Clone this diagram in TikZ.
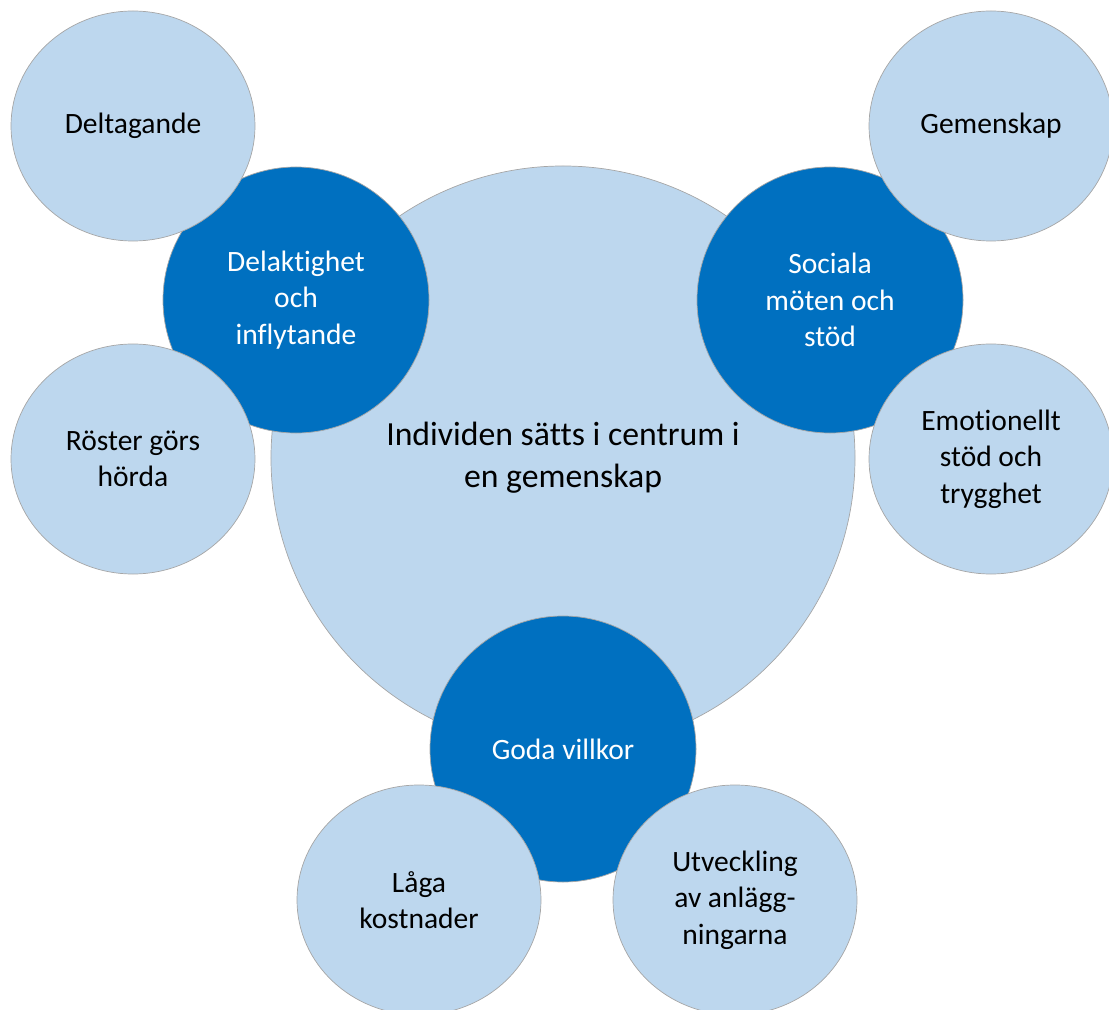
\documentclass[tikz,border=0pt]{standalone}
\usepackage{fontspec}
\setmainfont{Carlito}[Ligatures=NoCommon]
\usetikzlibrary{shapes.geometric}
\definecolor{lightblue}{HTML}{BDD7EE}
\definecolor{darkblue}{HTML}{0070C0}
\definecolor{rim}{HTML}{A6A6A6}
\begin{document}
\begin{tikzpicture}
  [x=0.25mm,y=-0.25mm,
   every node/.style={align=center,inner sep=0pt,draw=rim,line width=0.5pt},
   bigcirc/.style={circle,fill=lightblue,minimum size=146mm,font=\fontsize{24}{30}\selectfont},
   darkcirc/.style={circle,fill=darkblue,text=white,minimum size=66.5mm,font=\fontsize{21}{26}\selectfont},
   lightcirc/.style={ellipse,fill=lightblue,minimum width=61mm,minimum height=57.5mm,font=\fontsize{21}{26}\selectfont}]
\useasboundingbox (0,0) rectangle (1109,1010);

\node (centre)[bigcirc] at (563,458) {Individen sätts i centrum i\\en gemenskap};

  \node (delak)[darkcirc] at (296,300) {Delaktighet\\och\\inflytande};
  \node (social)[darkcirc] at (830,300) {Sociala\\möten och\\stöd};
  \node (goda)[darkcirc] at (563,749) {Goda villkor};

 \node (deltag)[lightcirc] at (133,126) {Deltagande};
 \node (roster)[lightcirc] at (133,459) {Röster görs\\hörda};
 \node (gemen)[lightcirc] at (991,126) {Gemenskap};
 \node (emot)[lightcirc] at (991,459) {Emotionellt\\stöd och\\trygghet};
 \node (laga)[lightcirc] at (419,900) {Låga\\kostnader};
 \node (utveck)[lightcirc] at (735,900) {Utveckling\\av anlägg-\\ningarna};
;
\end{tikzpicture}
\end{document}
